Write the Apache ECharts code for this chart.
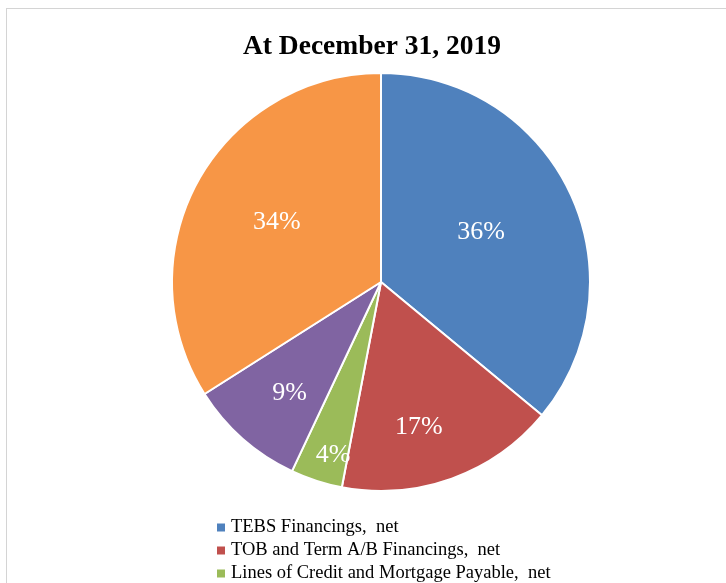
<!DOCTYPE html>
<html>
<head>
<meta charset="utf-8">
<script src="https://cdn.jsdelivr.net/npm/echarts@6/dist/echarts.min.js"></script>
<style>
  html, body { margin: 0; padding: 0; background: #ffffff; }
  #frame { position: absolute; left: 6px; top: 8px; width: 800px; height: 700px;
           border-left: 1px solid #d4d4d4; border-top: 1px solid #d4d4d4; }
  #chart { position: absolute; left: 0; top: 0; width: 726px; height: 583px; }
</style>
</head>
<body>
<div id="frame"></div>
<div id="chart"></div>
<script>
// Share of financing by type, December 31, 2019 (percent)
const categories = [
  'TEBS Financings,  net',
  'TOB and Term A/B Financings,  net',
  'Lines of Credit and Mortgage Payable,  net',
  'Mortgages and Other,  net',
  'Other Debt Financing,  net'
];
const shares = [36, 17, 4, 9, 34];

// Slice colours; where each percentage label sits: fraction of the radius
// and a small turn (degrees, clockwise) away from the slice's middle
const sliceColors = ['#4F81BD', '#C0504D', '#9BBB59', '#8064A2', '#F79646'];
const labelRadius = [0.535, 0.72, 0.86, 0.69, 0.575];
const labelTurn = [-1.4, 5.2, -2.5, -2.1, 1.2];

const serif = '"Liberation Serif", "Times New Roman", serif';
const chart = echarts.init(document.getElementById('chart'), null, { renderer: 'canvas' });

chart.setOption({
  backgroundColor: 'transparent',
  animation: false,
  title: {
    text: 'At December 31, 2019',
    left: 367,
    textAlign: 'center',
    top: 28,
    textStyle: { fontFamily: serif, fontWeight: 'bold', fontSize: 27.5, color: '#000' }
  },
  legend: {
    orient: 'vertical',
    left: 215,
    top: 516,
    height: 300,
    padding: 0,
    itemWidth: 10,
    itemHeight: 10,
    itemGap: 0,
    icon: 'rect',
    textStyle: { fontFamily: serif, fontSize: 18.5, color: '#000', lineHeight: 23 },
    data: categories
  },
  series: [{
    type: 'pie',
    center: [381, 282],
    radius: [0, 209],
    startAngle: 90,
    clockwise: true,
    avoidLabelOverlap: false,
    itemStyle: { borderColor: '#ffffff', borderWidth: 2 },
    label: {
      show: true,
      position: 'inside',
      formatter: p => p.value + '%',
      fontFamily: serif,
      fontSize: 26,
      color: '#ffffff'
    },
    labelLine: { show: false },
    emphasis: { disabled: true },
    labelLayout: function (params) {
      const i = params.dataIndex;
      const lay = chart.getModel().getSeriesByIndex(0).getData().getItemLayout(i);
      const mid = (lay.startAngle + lay.endAngle) / 2 + labelTurn[i] * Math.PI / 180;
      const f = labelRadius[i];
      return {
        x: lay.cx + Math.cos(mid) * lay.r * f,
        y: lay.cy + Math.sin(mid) * lay.r * f,
        align: 'center',
        verticalAlign: 'middle'
      };
    },
    data: categories.map((name, i) => ({
      name: name,
      value: shares[i],
      itemStyle: { color: sliceColors[i] }
    }))
  }]
});
</script>
</body>
</html>
